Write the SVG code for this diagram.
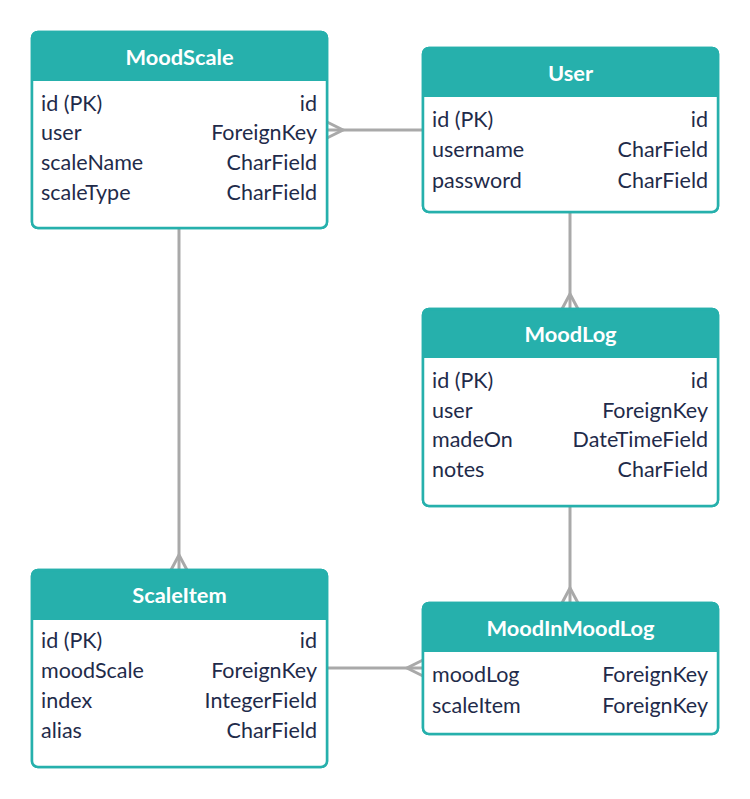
<svg xmlns="http://www.w3.org/2000/svg" width="750" height="799" viewBox="0 0 750 799">
<style>
.box{fill:#26b0ac;stroke:#26b0ac;stroke-width:2.5}
.frame{fill:none;stroke:#26b0ac;stroke-width:2.5}
.body{fill:#ffffff}
.title{font-family:Lato,"Open Sans",sans-serif;font-weight:bold;font-size:21.8px;fill:#ffffff;text-anchor:middle}
.f{font-family:Lato,"Open Sans",sans-serif;font-size:21.5px;fill:#1f2b4a}
.t{font-family:Lato,"Open Sans",sans-serif;font-size:21.5px;fill:#1f2b4a;text-anchor:end}
.c{fill:none;stroke:#a9a9a9;stroke-width:3}
</style>
<rect width="750" height="799" fill="#ffffff"/>
<g id="connectors">
  <path class="c" d="M327,130 H423"/>
  <path class="c" d="M327,122 L343,130 L327,138"/>
  <path class="c" d="M570,212 V309"/>
  <path class="c" d="M562,309 L570,294 L578,309"/>
  <path class="c" d="M179,228 V570"/>
  <path class="c" d="M171,570 L179,555 L187,570"/>
  <path class="c" d="M570,506 V603"/>
  <path class="c" d="M562,603 L570,588 L578,603"/>
  <path class="c" d="M327,668 H423"/>
  <path class="c" d="M423,660 L407,668 L423,676"/>
</g>
<g id="MoodScale">
  <rect class="box" x="32" y="32" width="295" height="196" rx="6"/>
  <path class="body" d="M32,81 H327 V222 A6,6 0 0 1 321,228 H38 A6,6 0 0 1 32,222 Z"/>
  <rect class="frame" x="32" y="32" width="295" height="196" rx="6"/>
  <text class="title" x="179.5" y="65">MoodScale</text>
  <text class="f" x="41" y="111">id (PK)</text><text class="t" x="317" y="111">id</text>
  <text class="f" x="41" y="140">user</text><text class="t" x="317" y="140">ForeignKey</text>
  <text class="f" x="41" y="170">scaleName</text><text class="t" x="317" y="170">CharField</text>
  <text class="f" x="41" y="200">scaleType</text><text class="t" x="317" y="200">CharField</text>
</g>
<g id="User">
  <rect class="box" x="423" y="48" width="295" height="164" rx="6"/>
  <path class="body" d="M423,97 H718 V206 A6,6 0 0 1 712,212 H429 A6,6 0 0 1 423,206 Z"/>
  <rect class="frame" x="423" y="48" width="295" height="164" rx="6"/>
  <text class="title" x="570.5" y="81">User</text>
  <text class="f" x="432" y="127">id (PK)</text><text class="t" x="708" y="127">id</text>
  <text class="f" x="432" y="157">username</text><text class="t" x="708" y="157">CharField</text>
  <text class="f" x="432" y="188">password</text><text class="t" x="708" y="188">CharField</text>
</g>
<g id="MoodLog">
  <rect class="box" x="423" y="309" width="295" height="197" rx="6"/>
  <path class="body" d="M423,358 H718 V500 A6,6 0 0 1 712,506 H429 A6,6 0 0 1 423,500 Z"/>
  <rect class="frame" x="423" y="309" width="295" height="197" rx="6"/>
  <text class="title" x="570.5" y="342">MoodLog</text>
  <text class="f" x="432" y="388">id (PK)</text><text class="t" x="708" y="388">id</text>
  <text class="f" x="432" y="418">user</text><text class="t" x="708" y="418">ForeignKey</text>
  <text class="f" x="432" y="447">madeOn</text><text class="t" x="708" y="447">DateTimeField</text>
  <text class="f" x="432" y="477">notes</text><text class="t" x="708" y="477">CharField</text>
</g>
<g id="ScaleItem">
  <rect class="box" x="32" y="570" width="295" height="197" rx="6"/>
  <path class="body" d="M32,620 H327 V761 A6,6 0 0 1 321,767 H38 A6,6 0 0 1 32,761 Z"/>
  <rect class="frame" x="32" y="570" width="295" height="197" rx="6"/>
  <text class="title" x="179.5" y="603">ScaleItem</text>
  <text class="f" x="41" y="648">id (PK)</text><text class="t" x="317" y="648">id</text>
  <text class="f" x="41" y="678">moodScale</text><text class="t" x="317" y="678">ForeignKey</text>
  <text class="f" x="41" y="708">index</text><text class="t" x="317" y="708">IntegerField</text>
  <text class="f" x="41" y="738">alias</text><text class="t" x="317" y="738">CharField</text>
</g>
<g id="MoodInMoodLog">
  <rect class="box" x="423" y="603" width="295" height="131" rx="6"/>
  <path class="body" d="M423,652 H718 V728 A6,6 0 0 1 712,734 H429 A6,6 0 0 1 423,728 Z"/>
  <rect class="frame" x="423" y="603" width="295" height="131" rx="6"/>
  <text class="title" x="570.5" y="636">MoodInMoodLog</text>
  <text class="f" x="432" y="682">moodLog</text><text class="t" x="708" y="682">ForeignKey</text>
  <text class="f" x="432" y="713">scaleItem</text><text class="t" x="708" y="713">ForeignKey</text>
</g>
</svg>
